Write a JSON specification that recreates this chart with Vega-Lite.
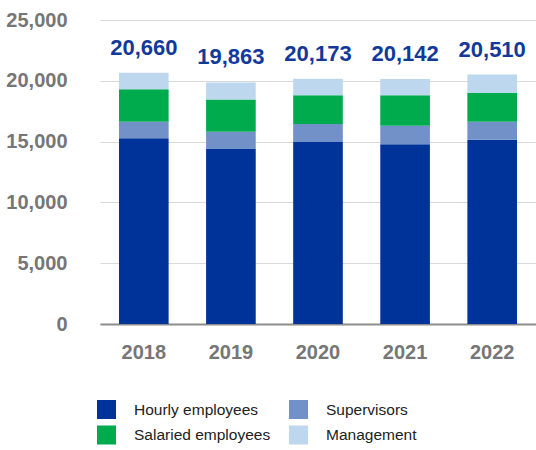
{
  "$schema": "https://vega.github.io/schema/vega-lite/v6.json",
  "autosize": "none",
  "width": 436,
  "height": 304,
  "padding": {"left": 100, "top": 20, "right": 0, "bottom": 126},
  "data": {
    "values": [
      {"year": "2018", "type": "Hourly employees", "ord": 1, "count": 15270},
      {"year": "2018", "type": "Supervisors", "ord": 2, "count": 1370},
      {"year": "2018", "type": "Salaried employees", "ord": 3, "count": 2670},
      {"year": "2018", "type": "Management", "ord": 4, "count": 1350},
      {"year": "2019", "type": "Hourly employees", "ord": 1, "count": 14430},
      {"year": "2019", "type": "Supervisors", "ord": 2, "count": 1370},
      {"year": "2019", "type": "Salaried employees", "ord": 3, "count": 2670},
      {"year": "2019", "type": "Management", "ord": 4, "count": 1393},
      {"year": "2020", "type": "Hourly employees", "ord": 1, "count": 14960},
      {"year": "2020", "type": "Supervisors", "ord": 2, "count": 1490},
      {"year": "2020", "type": "Salaried employees", "ord": 3, "count": 2360},
      {"year": "2020", "type": "Management", "ord": 4, "count": 1363},
      {"year": "2021", "type": "Hourly employees", "ord": 1, "count": 14790},
      {"year": "2021", "type": "Supervisors", "ord": 2, "count": 1520},
      {"year": "2021", "type": "Salaried employees", "ord": 3, "count": 2500},
      {"year": "2021", "type": "Management", "ord": 4, "count": 1332},
      {"year": "2022", "type": "Hourly employees", "ord": 1, "count": 15160},
      {"year": "2022", "type": "Supervisors", "ord": 2, "count": 1480},
      {"year": "2022", "type": "Salaried employees", "ord": 3, "count": 2360},
      {"year": "2022", "type": "Management", "ord": 4, "count": 1510}
    ]
  },
  "encoding": {
    "x": {
      "field": "year", "type": "nominal", "title": null,
      "scale": {"paddingInner": 0.43, "paddingOuter": 0.218},
      "axis": {
        "labelAngle": 0, "labelFont": "Liberation Sans", "labelFontWeight": "bold",
        "labelFontSize": 20, "labelColor": "#767676", "labelPadding": 18,
        "ticks": false, "domainColor": "#8C8C8C", "domainWidth": 2, "grid": false
      }
    }
  },
  "layer": [
    {
      "mark": {"type": "bar", "stroke": null},
      "encoding": {
        "y": {
          "field": "count", "type": "quantitative", "stack": "zero", "title": null,
          "scale": {"domain": [0, 25000], "nice": false},
          "axis": {
            "values": [0, 5000, 10000, 15000, 20000, 25000], "format": ",.0f",
            "labelFont": "Liberation Sans", "labelFontWeight": "bold",
            "labelFontSize": 20, "labelColor": "#767676", "labelPadding": 33,
            "ticks": false, "domain": false, "grid": true, "gridColor": "#D9D9D9", "gridWidth": 1.2
          }
        },
        "color": {
          "field": "type", "type": "nominal", "title": null,
          "scale": {
            "domain": ["Hourly employees", "Supervisors", "Salaried employees", "Management"],
            "range": ["#003399", "#7291C8", "#00AB4E", "#BDD7EE"]
          },
          "legend": {
            "orient": "none", "legendX": -3, "legendY": 380, "direction": "horizontal", "columns": 2,
            "symbolType": "square", "symbolSize": 361, "symbolStrokeWidth": 0, "symbolOpacity": 1,
            "labelFont": "Liberation Sans", "labelFontSize": 15.5, "labelColor": "#222222",
            "labelOffset": 18, "rowPadding": 6.5, "columnPadding": 18, "labelLimit": 300
          }
        },
        "order": {"field": "ord", "type": "quantitative", "sort": "ascending"}
      }
    },
    {
      "mark": {
        "type": "text", "font": "Liberation Sans", "fontWeight": "bold", "fontSize": 22,
        "color": "#12399A", "baseline": "alphabetic", "dy": -18
      },
      "encoding": {
        "y": {"aggregate": "sum", "field": "count", "type": "quantitative"},
        "text": {"aggregate": "sum", "field": "count", "type": "quantitative", "format": ","}
      }
    }
  ],
  "config": {"view": {"stroke": null}, "font": "Liberation Sans"}
}
